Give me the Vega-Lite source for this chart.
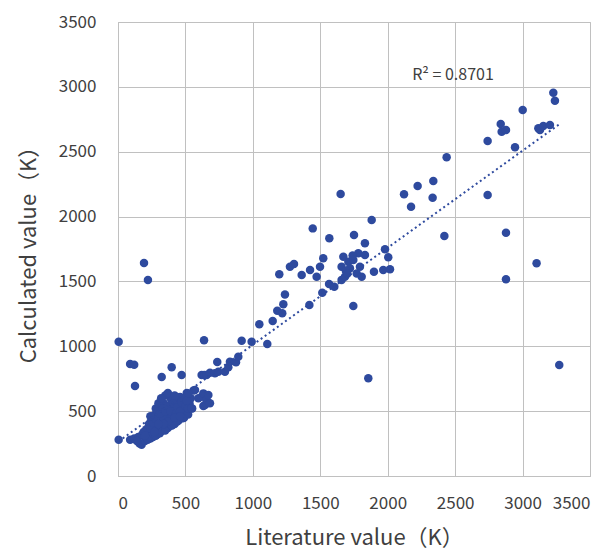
{
  "$schema": "https://vega.github.io/schema/vega-lite/v6.json",
  "width": 472,
  "height": 454,
  "autosize": {"type": "none"},
  "padding": {"left": 118, "top": 22, "right": 25, "bottom": 82},
  "background": "white",
  "config": {
    "font": "Noto Sans CJK SC",
    "view": {"stroke": "#c0c0c0", "strokeWidth": 1},
    "axis": {
      "grid": true,
      "gridColor": "#c0c0c0",
      "gridWidth": 1,
      "domainColor": "#c0c0c0",
      "ticks": false,
      "labelColor": "#404040",
      "labelFontSize": 17,
      "titleColor": "#404040",
      "titleFontSize": 22,
      "titleFontWeight": "normal",
      "format": "d"
    }
  },
  "datasets": {
    "pts": [
      {"lit": 5, "calc": 1035}, {"lit": 90, "calc": 863}, {"lit": 120, "calc": 858}, {"lit": 126, "calc": 694},
      {"lit": 193, "calc": 1642}, {"lit": 222, "calc": 1511}, {"lit": 1856, "calc": 753},
      {"lit": 5, "calc": 280}, {"lit": 90, "calc": 280}, {"lit": 120, "calc": 290}, {"lit": 160, "calc": 250},
      {"lit": 175, "calc": 240}, {"lit": 150, "calc": 300}, {"lit": 180, "calc": 320}, {"lit": 200, "calc": 270},
      {"lit": 210, "calc": 300}, {"lit": 230, "calc": 330}, {"lit": 240, "calc": 290}, {"lit": 250, "calc": 350},
      {"lit": 260, "calc": 310}, {"lit": 270, "calc": 380}, {"lit": 280, "calc": 330}, {"lit": 290, "calc": 420},
      {"lit": 290, "calc": 320}, {"lit": 300, "calc": 360}, {"lit": 300, "calc": 460}, {"lit": 310, "calc": 340},
      {"lit": 320, "calc": 400}, {"lit": 320, "calc": 500}, {"lit": 330, "calc": 350}, {"lit": 340, "calc": 440},
      {"lit": 340, "calc": 560}, {"lit": 350, "calc": 380}, {"lit": 360, "calc": 480}, {"lit": 360, "calc": 410},
      {"lit": 370, "calc": 370}, {"lit": 380, "calc": 520}, {"lit": 380, "calc": 440}, {"lit": 390, "calc": 600},
      {"lit": 390, "calc": 390}, {"lit": 400, "calc": 470}, {"lit": 400, "calc": 540}, {"lit": 410, "calc": 420},
      {"lit": 420, "calc": 500}, {"lit": 420, "calc": 400}, {"lit": 430, "calc": 580}, {"lit": 440, "calc": 450},
      {"lit": 450, "calc": 520}, {"lit": 450, "calc": 430}, {"lit": 460, "calc": 610}, {"lit": 470, "calc": 470},
      {"lit": 480, "calc": 540}, {"lit": 490, "calc": 450}, {"lit": 500, "calc": 500}, {"lit": 510, "calc": 640},
      {"lit": 520, "calc": 475}, {"lit": 530, "calc": 560}, {"lit": 540, "calc": 600}, {"lit": 550, "calc": 520},
      {"lit": 560, "calc": 660}, {"lit": 270, "calc": 470}, {"lit": 250, "calc": 430}, {"lit": 230, "calc": 400},
      {"lit": 210, "calc": 360}, {"lit": 190, "calc": 340}, {"lit": 280, "calc": 520}, {"lit": 300, "calc": 560},
      {"lit": 350, "calc": 620}, {"lit": 370, "calc": 640}, {"lit": 320, "calc": 600}, {"lit": 330, "calc": 460},
      {"lit": 260, "calc": 300}, {"lit": 220, "calc": 280}, {"lit": 280, "calc": 310}, {"lit": 310, "calc": 330},
      {"lit": 350, "calc": 350}, {"lit": 400, "calc": 390}, {"lit": 440, "calc": 420}, {"lit": 480, "calc": 445},
      {"lit": 240, "calc": 370}, {"lit": 260, "calc": 410}, {"lit": 280, "calc": 440}, {"lit": 310, "calc": 480},
      {"lit": 330, "calc": 520}, {"lit": 350, "calc": 500}, {"lit": 370, "calc": 540}, {"lit": 390, "calc": 500},
      {"lit": 410, "calc": 560}, {"lit": 430, "calc": 480}, {"lit": 440, "calc": 530}, {"lit": 460, "calc": 500},
      {"lit": 470, "calc": 570}, {"lit": 490, "calc": 600}, {"lit": 500, "calc": 540}, {"lit": 510, "calc": 580},
      {"lit": 370, "calc": 420}, {"lit": 340, "calc": 400}, {"lit": 300, "calc": 400}, {"lit": 270, "calc": 340},
      {"lit": 200, "calc": 310}, {"lit": 140, "calc": 270}, {"lit": 420, "calc": 450}, {"lit": 460, "calc": 460},
      {"lit": 520, "calc": 520}, {"lit": 240, "calc": 460}, {"lit": 420, "calc": 620},
      {"lit": 571, "calc": 663}, {"lit": 596, "calc": 599}, {"lit": 620, "calc": 611}, {"lit": 633, "calc": 540},
      {"lit": 633, "calc": 637}, {"lit": 645, "calc": 547}, {"lit": 657, "calc": 586}, {"lit": 670, "calc": 624},
      {"lit": 682, "calc": 560}, {"lit": 521, "calc": 637}, {"lit": 546, "calc": 522},
      {"lit": 620, "calc": 779}, {"lit": 640, "calc": 779}, {"lit": 657, "calc": 779}, {"lit": 682, "calc": 796},
      {"lit": 719, "calc": 792}, {"lit": 744, "calc": 804}, {"lit": 736, "calc": 879}, {"lit": 793, "calc": 804},
      {"lit": 818, "calc": 838}, {"lit": 830, "calc": 881}, {"lit": 875, "calc": 876}, {"lit": 892, "calc": 920},
      {"lit": 917, "calc": 1043}, {"lit": 991, "calc": 1035}, {"lit": 1048, "calc": 1169}, {"lit": 1107, "calc": 1018},
      {"lit": 1147, "calc": 1195}, {"lit": 1181, "calc": 1274}, {"lit": 1218, "calc": 1254}, {"lit": 1226, "calc": 1324},
      {"lit": 1238, "calc": 1400}, {"lit": 638, "calc": 1046}, {"lit": 324, "calc": 763}, {"lit": 398, "calc": 838},
      {"lit": 472, "calc": 779},
      {"lit": 1419, "calc": 1318}, {"lit": 1515, "calc": 1413}, {"lit": 1565, "calc": 1480}, {"lit": 1604, "calc": 1459},
      {"lit": 1658, "calc": 1511}, {"lit": 1745, "calc": 1311}, {"lit": 1196, "calc": 1555}, {"lit": 1275, "calc": 1613},
      {"lit": 1305, "calc": 1634}, {"lit": 1362, "calc": 1549}, {"lit": 1424, "calc": 1588}, {"lit": 1473, "calc": 1536},
      {"lit": 1498, "calc": 1613}, {"lit": 1522, "calc": 1678}, {"lit": 1444, "calc": 1909}, {"lit": 1567, "calc": 1832},
      {"lit": 1651, "calc": 2174}, {"lit": 1750, "calc": 1858}, {"lit": 1881, "calc": 1974}, {"lit": 1831, "calc": 1794},
      {"lit": 1671, "calc": 1691}, {"lit": 1708, "calc": 1652}, {"lit": 1720, "calc": 1601}, {"lit": 1782, "calc": 1717},
      {"lit": 1831, "calc": 1704}, {"lit": 1770, "calc": 1562}, {"lit": 1807, "calc": 1536}, {"lit": 1683, "calc": 1536},
      {"lit": 1658, "calc": 1613}, {"lit": 1745, "calc": 1665}, {"lit": 1794, "calc": 1613}, {"lit": 1898, "calc": 1575},
      {"lit": 1967, "calc": 1588}, {"lit": 2017, "calc": 1593}, {"lit": 1980, "calc": 1748}, {"lit": 2004, "calc": 1686},
      {"lit": 1690, "calc": 1580}, {"lit": 1740, "calc": 1700}, {"lit": 1700, "calc": 1560},
      {"lit": 2121, "calc": 2172}, {"lit": 2222, "calc": 2236}, {"lit": 2173, "calc": 2076}, {"lit": 2338, "calc": 2274},
      {"lit": 2333, "calc": 2146}, {"lit": 2437, "calc": 2457}, {"lit": 2420, "calc": 1850}, {"lit": 2741, "calc": 2166},
      {"lit": 2741, "calc": 2582}, {"lit": 2838, "calc": 2714}, {"lit": 2845, "calc": 2654}, {"lit": 2877, "calc": 2667},
      {"lit": 2944, "calc": 2534}, {"lit": 3001, "calc": 2822}, {"lit": 3117, "calc": 2680}, {"lit": 3129, "calc": 2667},
      {"lit": 3154, "calc": 2698}, {"lit": 3203, "calc": 2706}, {"lit": 3228, "calc": 2955}, {"lit": 3240, "calc": 2893},
      {"lit": 2877, "calc": 1876}, {"lit": 2877, "calc": 1516}, {"lit": 3104, "calc": 1640}, {"lit": 3272, "calc": 856}
    ],
    "label": [{"lit": 2484, "calc": 3091, "text": "R² = 0.8701"}]
  },
  "layer": [
    {
      "data": {"name": "pts"},
      "mark": {"type": "circle", "size": 72, "color": "#2E4A9E", "opacity": 1},
      "encoding": {
        "x": {"field": "lit", "type": "quantitative", "scale": {"domain": [0, 3500], "nice": false}, "axis": {"values": [0, 500, 1000, 1500, 2000, 2500, 3000, 3500], "title": "Literature value（K）", "labelPadding": 19, "titlePadding": 16}},
        "y": {"field": "calc", "type": "quantitative", "scale": {"domain": [0, 3500], "nice": false}, "axis": {"values": [0, 500, 1000, 1500, 2000, 2500, 3000, 3500], "title": "Calculated value（K）", "labelPadding": 22, "titlePadding": 18}}
      }
    },
    {
      "data": {"name": "pts"},
      "transform": [{"regression": "calc", "on": "lit"}],
      "mark": {"type": "line", "color": "#2E4A9E", "strokeWidth": 2, "strokeDash": [2, 3]},
      "encoding": {
        "x": {"field": "lit", "type": "quantitative"},
        "y": {"field": "calc", "type": "quantitative"}
      }
    },
    {
      "data": {"name": "label"},
      "mark": {"type": "text", "fontSize": 16, "color": "#404040", "align": "center", "baseline": "middle"},
      "encoding": {
        "x": {"field": "lit", "type": "quantitative"},
        "y": {"field": "calc", "type": "quantitative"},
        "text": {"field": "text"}
      }
    }
  ]
}
